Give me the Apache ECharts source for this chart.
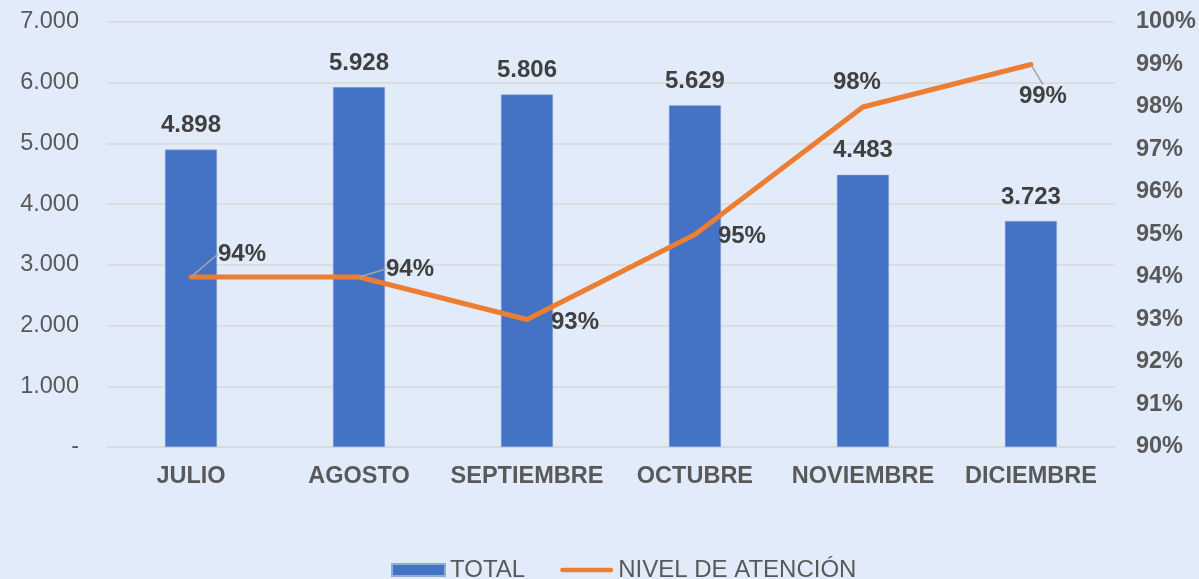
<!DOCTYPE html>
<html>
<head>
<meta charset="utf-8">
<script src="https://cdn.jsdelivr.net/npm/echarts@6/dist/echarts.min.js"></script>
<style>
    html, body { margin: 0; padding: 0; background: #E2EBFA; }
    #chart { width: 1199px; height: 579px; }
</style>
</head>
<body>
<div id="chart"></div>
<script>
'use strict';

var months = ['JULIO', 'AGOSTO', 'SEPTIEMBRE', 'OCTUBRE', 'NOVIEMBRE', 'DICIEMBRE'];
var totals = [4898, 5928, 5806, 5629, 4483, 3723];
var attention = [0.94, 0.94, 0.93, 0.95, 0.98, 0.99];

// label shifts for the line labels
var labelShift = [[51, -23], [51, -8], [48, 3], [47, 2], [-6, -25], [12, 32]];
var withLeader = [true, true, false, false, false, true];

var font = 'Liberation Sans, Arial, sans-serif';
var chart = echarts.init(document.getElementById('chart'));

function thousands(v) {
    if (v === 0) { return '-'; }
    return String(v).replace(/\B(?=(\d{3})+(?!\d))/g, '.');
}

var lineData = attention.map(function (v, i) {
    return {
        value: v,
        labelLine: { show: withLeader[i] }
    };
});

chart.setOption({
    backgroundColor: '#E2EBFA',
    animation: false,
    textStyle: { fontFamily: font },
    grid: { left: 107, right: 84, top: 22, bottom: 132 },
    legend: {
        top: 553,
        left: 386,
        itemWidth: 53,
        itemHeight: 12,
        itemGap: 35,
        itemTextGap: 6,
        textStyle: { fontSize: 24, color: '#595959', fontFamily: font },
        data: [
            { name: 'TOTAL', icon: 'rect' },
            { name: 'NIVEL DE ATENCIÓN', icon: 'path://M2,0 L54,0 A2.5,2.5 0 0 1 54,5 L2,5 A2.5,2.5 0 0 1 2,0 Z' }
        ]
    },
    xAxis: {
        type: 'category',
        data: months,
        axisTick: { show: false },
        axisLine: { lineStyle: { color: '#D9D9D9', width: 1.5 } },
        axisLabel: { interval: 0, fontSize: 23.5, fontWeight: 'bold', color: '#595959', margin: 18 }
    },
    yAxis: [
        {
            type: 'value',
            min: 0,
            max: 7000,
            interval: 1000,
            axisLine: { show: false },
            axisTick: { show: false },
            splitLine: { lineStyle: { color: '#D9D9D9', width: 1.5 } },
            axisLabel: { fontSize: 23.5, color: '#595959', margin: 28, formatter: thousands }
        },
        {
            type: 'value',
            min: 0.9,
            max: 1.0,
            interval: 0.01,
            axisLine: { show: false },
            axisTick: { show: false },
            splitLine: { show: false },
            axisLabel: {
                fontSize: 23.5,
                fontWeight: 'bold',
                color: '#595959',
                margin: 21,
                formatter: function (v) { return Math.round(v * 100) + '%'; }
            }
        }
    ],
    series: [
        {
            name: 'TOTAL',
            type: 'bar',
            data: totals,
            barWidth: 52,
            itemStyle: { color: '#4472C4', borderColor: '#8FAADC', borderWidth: 0.5 },
            label: {
                show: true,
                position: 'top',
                distance: 12,
                fontSize: 24,
                fontWeight: 'bold',
                color: '#404040',
                formatter: function (p) { return thousands(p.value); }
            }
        },
        {
            name: 'NIVEL DE ATENCIÓN',
            type: 'line',
            yAxisIndex: 1,
            data: lineData,
            symbol: 'circle',
            symbolSize: 2,
            itemStyle: { color: '#ED7D31' },
            lineStyle: { color: '#ED7D31', width: 5, cap: 'round', join: 'round' },
            label: {
                show: true,
                position: 'inside',
                fontSize: 24,
                fontWeight: 'bold',
                color: '#404040',
                formatter: function (p) { return Math.round(p.value * 100) + '%'; }
            },
            labelLine: {
                lineStyle: { color: '#A6A6A6', width: 1.5 }
            },
            labelLayout: function (params) {
                var s = labelShift[params.dataIndex];
                return { dx: s[0], dy: s[1] };
            }
        }
    ]
});
</script>
</body>
</html>
